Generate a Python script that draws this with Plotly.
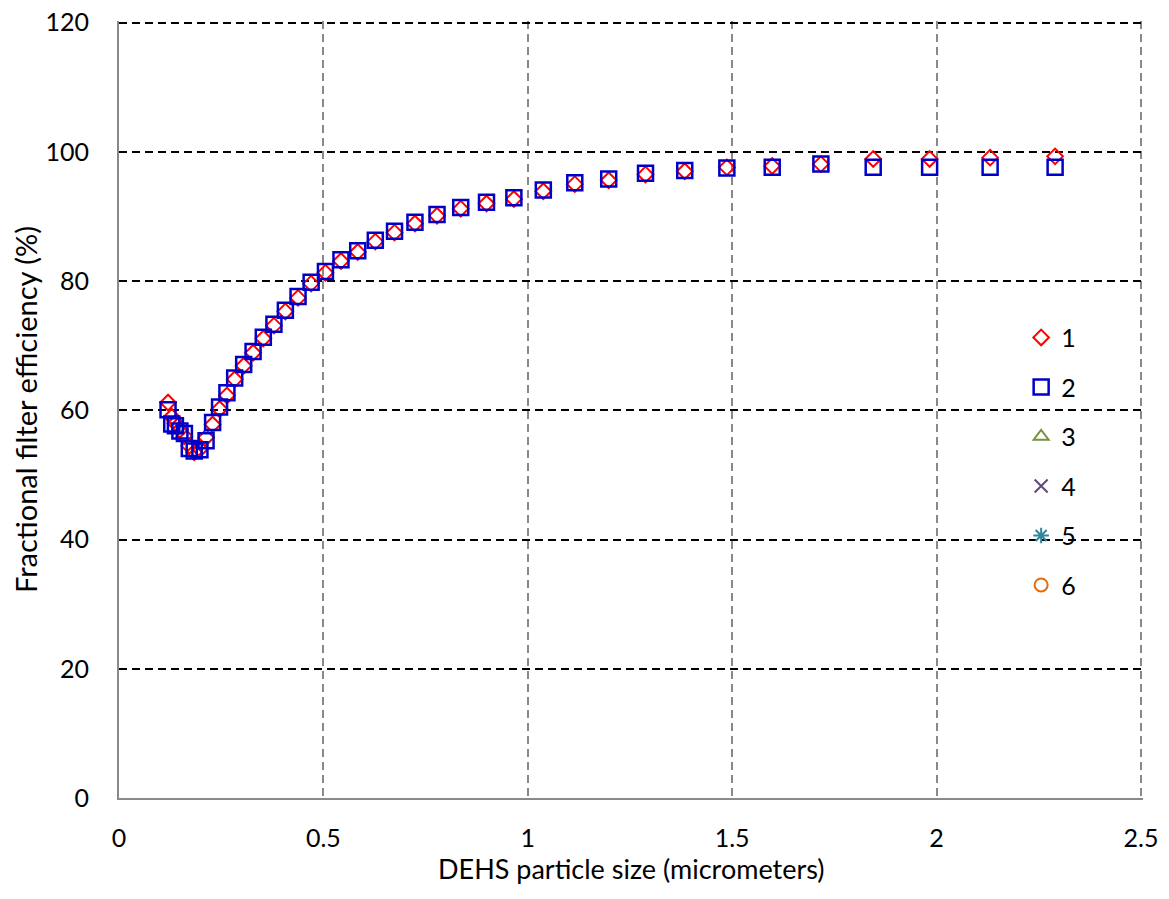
import plotly.graph_objects as go

# particle size (micrometers)
size_um = [0.120, 0.129, 0.138, 0.149, 0.160, 0.172, 0.184, 0.198, 0.213, 0.229,
           0.246, 0.264, 0.283, 0.305, 0.328, 0.353, 0.379, 0.407, 0.438, 0.470,
           0.505, 0.543, 0.584, 0.627, 0.674, 0.724, 0.778, 0.836, 0.899, 0.966,
           1.038, 1.115, 1.198, 1.288, 1.384, 1.487, 1.598, 1.717, 1.845, 1.983,
           2.131, 2.290]

eff_1 = [61.2, 59.0, 58.0, 57.0, 56.0, 54.5, 53.5, 54.0, 55.8, 57.8,
         60.2, 62.3, 64.8, 66.9, 68.9, 71.1, 73.1, 75.3, 77.4, 79.6,
         81.3, 83.1, 84.5, 86.1, 87.5, 88.9, 90.1, 91.2, 92.0, 92.7,
         93.9, 95.0, 95.6, 96.5, 97.0, 97.6, 97.8, 98.1, 98.9, 98.9,
         99.1, 99.3]

eff_2 = [60.1, 57.9, 57.6, 56.8, 56.4, 54.1, 53.7, 53.9, 55.3, 58.1,
         60.5, 62.7, 65.0, 67.1, 69.1, 71.3, 73.3, 75.5, 77.6, 79.8,
         81.5, 83.3, 84.7, 86.3, 87.7, 89.1, 90.3, 91.4, 92.2, 92.9,
         94.1, 95.2, 95.8, 96.7, 97.1, 97.5, 97.6, 98.1, 97.6, 97.6,
         97.6, 97.6]

series_names = ["1", "2", "3", "4", "5", "6"]
x_ticks = [0, 0.5, 1, 1.5, 2, 2.5]
y_ticks = [0, 20, 40, 60, 80, 100, 120]
x_title = "DEHS particle size (micrometers)"
y_title = "Fractional filter efficiency (%)"

FONT = "Lato"
FS = 25

fig = go.Figure()
fig.add_trace(go.Scatter(x=size_um, y=eff_1, mode="markers", name=series_names[0],
                         legendgroup="g1",
                         marker=dict(symbol="diamond-open", size=12, color="#FF0000",
                                     line=dict(width=2, color="#FF0000"))))
fig.add_trace(go.Scatter(x=size_um, y=eff_2, mode="markers", name=series_names[1],
                         legendgroup="g2",
                         marker=dict(symbol="square-open", size=15, color="#0000C8",
                                     line=dict(width=2.5, color="#0000C8"))))
others = [("triangle-up-open", "#77933C", 13),
          ("x-thin-open", "#604A7B", 13),
          ("asterisk-open", "#31859C", 13),
          ("circle-open", "#E46C0A", 13)]
for i, (sym, col, sz) in enumerate(others):
    fig.add_trace(go.Scatter(x=[None], y=[None], mode="markers", name=series_names[i + 2],
                             legendgroup="g%d" % (i + 3),
                             marker=dict(symbol=sym, size=sz, color=col,
                                         line=dict(width=2, color=col))))

fig.update_layout(
    width=1153, height=883,
    margin=dict(l=111, r=18, t=13, b=93, autoexpand=False),
    paper_bgcolor="white", plot_bgcolor="white",
    font=dict(family=FONT, size=FS, color="black"),
    showlegend=True,
    legend=dict(x=0.881, y=0.622, xanchor="left", yanchor="top",
                bgcolor="rgba(0,0,0,0)", font=dict(size=FS),
                tracegroupgap=14, traceorder="grouped", itemwidth=30),
    annotations=[dict(text=x_title, xref="paper", yref="paper", x=0.5, y=0,
                      xanchor="center", yanchor="middle", yshift=-70,
                      showarrow=False, font=dict(size=27))],
)
fig.update_xaxes(range=[0, 2.505], tickvals=x_ticks, ticktext=[str(v) for v in x_ticks],
                 automargin=False, ticklabeloverflow="allow",
                 showline=True, linecolor="#898989", linewidth=2,
                 showgrid=True, gridcolor="#898989", gridwidth=2, griddash="8px,5px",
                 zeroline=False, ticks="", ticklabelstandoff=17)
fig.update_yaxes(range=[0, 120.25], tickvals=y_ticks,
                 automargin=False, ticklabeloverflow="allow",
                 showline=True, linecolor="#898989", linewidth=2,
                 showgrid=True, gridcolor="black", gridwidth=2, griddash="8px,5px",
                 zeroline=False, ticks="", ticklabelstandoff=23,
                 title=dict(text=y_title, standoff=11, font=dict(size=29)))

fig.write_html("out.html")
